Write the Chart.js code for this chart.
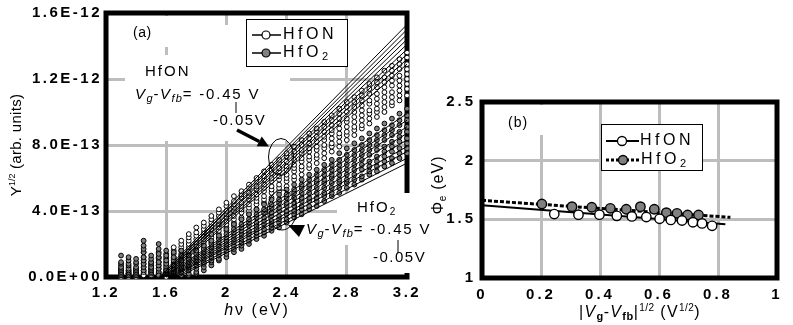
<!DOCTYPE html>
<html><head><meta charset="utf-8">
<script src="https://cdn.jsdelivr.net/npm/chart.js@4.4.1/dist/chart.umd.min.js"></script>
<style>
html,body{margin:0;padding:0;background:#fff;}
#wrap{position:relative;width:793px;height:325px;overflow:hidden;background:#fff;}
canvas{position:absolute;top:0;}
</style></head><body>
<div id="wrap">
<canvas id="ca" width="430" height="325" style="left:0;width:430px;height:325px"></canvas>
<canvas id="cb" width="363" height="325" style="left:430px;width:363px;height:325px"></canvas>
</div>
<script>
// ---------- Panel (a) data: Y^1/2 in units of 1E-13 ----------
const hv = [1.30,1.35,1.40,1.45,1.50,1.55,1.60,1.65,1.70,1.75,1.80,1.85,1.90,1.95,2.00,2.05,2.10,2.15,2.20,2.25,2.30,2.35,2.40,2.45,2.50,2.55,2.60,2.65,2.70,2.75,2.80,2.85,2.90,2.95,3.00,3.05,3.10,3.15,3.20];

const hfonY1 = [0.7,0.6,0.5,0.3,0.7,1.1,1.4,1.8,2.2,2.6,3.0,3.3,3.7,4.1,4.5,4.9,5.2,5.6,6.0,6.4,6.8,7.1,7.5,7.9,8.3,8.7,9.0,9.4,9.8,10.2,10.6,10.9,11.3,11.7,12.1,12.5,12.8,13.2,13.6];
const hfonY2 = [0.5,0.4,0.4,0.1,0.5,0.9,1.2,1.6,2.0,2.4,2.7,3.1,3.5,3.9,4.3,4.6,5.0,5.4,5.8,6.1,6.5,6.9,7.3,7.6,8.0,8.4,8.8,9.1,9.5,9.9,10.3,10.6,11.0,11.4,11.8,12.1,12.5,12.9,13.3];
const hfonY3 = [0.4,0.3,0.3,1.5,0.3,0.7,1.1,1.4,1.8,2.2,2.5,2.9,3.3,3.7,4.0,4.4,4.8,5.1,5.5,5.9,6.3,6.6,7.0,7.4,7.7,8.1,8.5,8.8,9.2,9.6,10.0,10.3,10.7,11.1,11.5,11.8,12.2,12.6,12.9];
const hfonY4 = [0.3,0.2,0.2,1.2,0.1,0.5,0.9,1.2,1.6,2.0,2.3,2.7,3.1,3.4,3.8,4.2,4.5,4.9,5.3,5.6,6.0,6.4,6.7,7.1,7.5,7.8,8.2,8.5,8.9,9.3,9.6,10.0,10.4,10.7,11.1,11.5,11.9,12.2,12.6];
const hfonY5 = [0.2,0.2,0.2,1.0,0.9,0.3,0.7,1.1,1.4,1.8,2.1,2.5,2.9,3.2,3.6,4.0,4.3,4.7,5.0,5.4,5.8,6.1,6.5,6.8,7.2,7.6,7.9,8.3,8.7,9.0,9.4,9.7,10.1,10.5,10.8,11.2,11.6,11.9,12.3];
const hfonY6 = [0.1,0.1,0.1,0.8,0.7,0.2,0.5,0.9,1.2,1.6,1.9,2.3,2.6,3.0,3.4,3.7,4.1,4.4,4.8,5.2,5.5,5.9,6.2,6.6,7.0,7.3,7.7,8.0,8.4,8.7,9.1,9.4,9.8,10.1,10.5,10.9,11.2,11.6,12.0];
const hfonY7 = [0.0,0.0,0.0,0.6,0.5,1.5,0.3,0.7,1.0,1.4,1.7,2.1,2.4,2.8,3.2,3.5,3.9,4.2,4.6,4.9,5.3,5.6,6.0,6.4,6.7,7.1,7.4,7.8,8.1,8.5,8.8,9.1,9.5,9.9,10.2,10.6,10.9,11.3,11.7];
const hfonY8 = [0.0,0.0,0.0,0.4,0.3,1.2,0.2,0.5,0.9,1.2,1.6,1.9,2.2,2.6,3.0,3.3,3.6,4.0,4.4,4.7,5.1,5.4,5.8,6.1,6.5,6.8,7.2,7.5,7.9,8.2,8.6,8.9,9.2,9.6,10.0,10.3,10.6,11.0,11.4];
const hfonY9 = [0.0,0.0,0.0,0.2,0.1,0.9,0.0,0.3,0.7,1.0,1.4,1.7,2.1,2.4,2.8,3.1,3.5,3.8,4.1,4.5,4.8,5.2,5.5,5.9,6.2,6.6,6.9,7.2,7.6,7.9,8.3,8.6,9.0,9.3,9.7,10.0,10.4,10.7,11.0];

const hfo2Y1 = [1.3,1.2,1.1,2.2,1.3,0.1,0.4,0.7,1.0,1.3,1.6,1.9,2.2,2.5,2.9,3.2,3.5,3.8,4.1,4.4,4.7,5.0,5.3,5.6,5.9,6.2,6.5,6.8,7.1,7.5,7.8,8.1,8.4,8.7,9.0,9.3,9.6,9.9,10.2];
const hfo2Y2 = [0.9,1.0,0.9,1.9,1.1,2.0,0.2,0.5,0.8,1.1,1.4,1.7,2.0,2.3,2.6,2.9,3.2,3.5,3.8,4.1,4.4,4.7,5.0,5.3,5.6,5.9,6.2,6.5,6.8,7.1,7.4,7.7,8.0,8.3,8.6,8.9,9.2,9.5,9.8];
const hfo2Y3 = [0.8,0.8,0.8,1.7,0.9,1.7,1.6,0.3,0.6,0.9,1.2,1.5,1.8,2.1,2.4,2.7,3.0,3.3,3.6,3.9,4.2,4.5,4.8,5.1,5.4,5.6,5.9,6.2,6.5,6.8,7.1,7.4,7.7,8.0,8.3,8.6,8.9,9.2,9.5];
const hfo2Y4 = [0.6,0.7,0.6,1.5,0.8,1.4,1.3,0.2,0.5,0.7,1.0,1.3,1.6,1.9,2.2,2.5,2.8,3.1,3.3,3.6,3.9,4.2,4.5,4.8,5.1,5.4,5.7,5.9,6.2,6.5,6.8,7.1,7.4,7.7,8.0,8.3,8.6,8.8,9.1];
const hfo2Y5 = [0.5,0.5,0.5,1.2,0.6,1.2,1.0,1.5,0.3,0.6,0.9,1.1,1.4,1.7,2.0,2.3,2.6,2.8,3.1,3.4,3.7,4.0,4.3,4.5,4.8,5.1,5.4,5.7,6.0,6.2,6.5,6.8,7.1,7.4,7.7,7.9,8.2,8.5,8.8];
const hfo2Y6 = [0.4,0.4,0.4,1.0,0.5,0.9,0.8,1.2,0.1,0.4,0.7,0.9,1.2,1.5,1.8,2.1,2.3,2.6,2.9,3.2,3.4,3.7,4.0,4.3,4.6,4.8,5.1,5.4,5.7,5.9,6.2,6.5,6.8,7.0,7.3,7.6,7.9,8.2,8.4];
const hfo2Y7 = [0.3,0.3,0.3,0.8,0.4,0.7,0.6,1.0,1.6,0.2,0.5,0.8,1.0,1.3,1.6,1.9,2.1,2.4,2.7,2.9,3.2,3.5,3.8,4.0,4.3,4.6,4.8,5.1,5.4,5.7,5.9,6.2,6.5,6.7,7.0,7.3,7.6,7.8,8.1];
const hfo2Y8 = [0.2,0.2,0.2,0.6,0.3,0.5,0.4,0.8,1.3,0.1,0.3,0.6,0.9,1.1,1.4,1.7,1.9,2.2,2.5,2.7,3.0,3.3,3.5,3.8,4.1,4.3,4.6,4.9,5.1,5.4,5.7,5.9,6.1,6.4,6.7,7.0,7.2,7.5,7.8];
const hfo2Y9 = [0.1,0.1,0.1,0.4,0.2,0.3,0.2,0.5,1.0,1.1,0.2,0.4,0.7,1.0,1.2,1.5,1.7,2.0,2.3,2.5,2.8,3.0,3.3,3.6,3.8,4.1,4.3,4.6,4.9,5.1,5.4,5.6,5.9,6.2,6.4,6.7,6.9,7.2,7.5];

// fitted lines (x-intercept in eV, value at hv = 3.2 in 1E-13)
const fitHfONStart = [1.55,1.56,1.56,1.57,1.57,1.58,1.58,1.59,1.60];
const fitHfONEnd   = [15.3,15.0,14.7,14.4,14.1,13.8,13.5,13.2,12.9];
const fitHfO2Start = [1.58,1.59,1.60,1.61,1.62,1.63,1.64,1.66,1.68];
const fitHfO2End   = [9.9,9.5,9.1,8.7,8.3,7.9,7.6,7.2,6.9];
const fitEndHv = 3.2;

const xTicksA = [1.2,1.6,2.0,2.4,2.8,3.2];
const xTickLabelsA = ['1.2','1.6','2','2.4','2.8','3.2'];
const yTicksA = [0,4,8,12,16];
const yTickLabelsA = ['0.0E+00','4.0E-13','8.0E-13','1.2E-12','1.6E-12'];

// ---------- Panel (b) data ----------
const phiHfONX = [0.245,0.327,0.398,0.457,0.508,0.557,0.602,0.640,0.678,0.715,0.746,0.780];
const phiHfONY = [1.545,1.540,1.540,1.530,1.525,1.520,1.505,1.495,1.490,1.475,1.465,1.445];
const phiHfO2X = [0.203,0.305,0.372,0.435,0.489,0.537,0.584,0.625,0.661,0.697,0.734];
const phiHfO2Y = [1.631,1.608,1.603,1.594,1.586,1.608,1.586,1.557,1.551,1.537,1.537];
const fitPhiHfONX = [0, 0.825];
const fitPhiHfONY = [1.620, 1.458];
const fitPhiHfO2X = [0, 0.842];
const fitPhiHfO2Y = [1.662, 1.517];
const xTicksB = [0,0.2,0.4,0.6,0.8,1];
const xTickLabelsB = ['0','0.2','0.4','0.6','0.8','1'];
const yTicksB = [1,1.5,2,2.5];
const yTickLabelsB = ['1','1.5','2','2.5'];

// ---------- helpers ----------
const FONT = '"Liberation Sans", Arial, Helvetica, sans-serif';
const GRID = '#bdbdbd';
const GRAY = '#808080';
Chart.defaults.font.family = FONT;

function pts(xs, ys){ return xs.map((x,i)=>({x:x, y:ys[i]})); }

function setFont(ctx, p){
  ctx.font = (p[2]||'') + ' ' + p[1] + 'px ' + FONT;
  ctx.letterSpacing = (p[4]||0) + 'px';
}
function drawRich(ctx, x, y, parts, align){
  ctx.save();
  ctx.textBaseline = 'middle';
  ctx.textAlign = 'left';
  let total = 0;
  const ws = parts.map(p=>{ setFont(ctx,p); const w = ctx.measureText(p[0]).width; total += w; return w; });
  let cx = align==='center' ? x - total/2 : (align==='right' ? x - total : x);
  parts.forEach((p,i)=>{ setFont(ctx,p); ctx.fillText(p[0], cx, y + (p[3]||0)); cx += ws[i]; });
  ctx.restore();
}
function line(ctx,x1,y1,x2,y2,w,dash){
  ctx.save(); ctx.strokeStyle='#000'; ctx.lineWidth=w; if(dash) ctx.setLineDash(dash);
  ctx.beginPath(); ctx.moveTo(x1,y1); ctx.lineTo(x2,y2); ctx.stroke(); ctx.restore();
}
function circle(ctx,x,y,r,fill,bw){
  ctx.save(); ctx.beginPath(); ctx.arc(x,y,r,0,Math.PI*2); ctx.fillStyle=fill; ctx.fill();
  ctx.lineWidth=bw||1; ctx.strokeStyle='#000'; ctx.stroke(); ctx.restore();
}
function vgParts(){
  return [['V',15,'italic',0,1.5],['g',11,'italic',4,1],['-',15,'',0,1.5],['V',15,'italic',0,1.5],['fb',11,'italic',4,1],['= -0.45 V',15,'',0,1.8]];
}

// ---------- chart (a) ----------
const rowsHfON = [hfonY1,hfonY2,hfonY3,hfonY4,hfonY5,hfonY6,hfonY7,hfonY8,hfonY9];
const rowsHfO2 = [hfo2Y1,hfo2Y2,hfo2Y3,hfo2Y4,hfo2Y5,hfo2Y6,hfo2Y7,hfo2Y8,hfo2Y9];
const dsA = [];
fitHfONStart.forEach((x0,i)=>dsA.push({data:[{x:x0,y:0},{x:fitEndHv,y:fitHfONEnd[i]}],showLine:true,borderColor:'#000',borderWidth:1,pointRadius:0,order:0,clip:1}));
fitHfO2Start.forEach((x0,i)=>dsA.push({data:[{x:x0,y:0},{x:fitEndHv,y:fitHfO2End[i]}],showLine:true,borderColor:'#000',borderWidth:1,pointRadius:0,order:0,clip:1}));
rowsHfO2.forEach(r=>dsA.push({data:pts(hv,r),showLine:false,pointRadius:2.4,pointBorderWidth:1,pointBackgroundColor:GRAY,pointBorderColor:'#000',order:1,clip:2}));
rowsHfON.forEach(r=>dsA.push({data:pts(hv,r),showLine:false,pointRadius:2.4,pointBorderWidth:1,pointBackgroundColor:'#fff',pointBorderColor:'#000',order:2,clip:2}));

const tickFont = {family:FONT,size:15,weight:'bold'};

const plugA = {
  id:'plugA',
  beforeDraw(chart){ chart.ctx.letterSpacing='2.5px'; },
  beforeDatasetsDraw(chart){
    const c=chart.ctx, a=chart.chartArea;
    c.save(); c.letterSpacing='0px';
    c.strokeStyle='#000'; c.lineWidth=5;
    c.strokeRect(a.left,a.top,a.right-a.left,a.bottom-a.top);
    c.fillStyle='#fff';
    c.fillRect(125,16,70,31);
    c.fillRect(195,25,95,30);
    c.fillRect(125,55,165,86);
    c.fillRect(337,193,90,25);
    c.fillRect(300,218,127,27);
    c.fillRect(368,245,59,28);
    c.restore();
  },
  afterDatasetsDraw(chart){
    const c=chart.ctx;
    c.save(); c.fillStyle='#000';
    drawRich(c,133,33,[['(a)',14,'',0,0.5]]);
    // legend
    c.fillStyle='#fff'; c.fillRect(246,19,102,47);
    c.strokeStyle='#000'; c.lineWidth=1; c.strokeRect(246.5,19.5,101,47);
    c.fillStyle='#000';
    line(c,252,35,281,35,1.5); circle(c,266,35,4,'#fff',1.2);
    drawRich(c,283,35,[['HfON',16,'',0,3.5]]);
    line(c,252,53,281,53,1.5); circle(c,266,53,4,GRAY,1.2);
    drawRich(c,283,53,[['HfO',16,'',0,3.5],['2',11,'',4,0]]);
    // HfON annotation
    drawRich(c,145,72,[['HfON',15,'',0,2]]);
    drawRich(c,135,95,vgParts());
    line(c,236,102,236,113,1);
    drawRich(c,213,121,[['-0.05V',15,'',0,1.5]]);
    // arrow
    const sx=237, sy=130, tx=269, ty=146.5;
    const L=Math.hypot(tx-sx,ty-sy), dx=(tx-sx)/L, dy=(ty-sy)/L, hl=11, hw=5.5;
    const bx=tx-hl*dx, by=ty-hl*dy;
    line(c,sx,sy,bx,by,3.5);
    c.beginPath(); c.moveTo(tx,ty); c.lineTo(bx-hw*dy,by+hw*dx); c.lineTo(bx+hw*dy,by-hw*dx); c.closePath(); c.fill();
    // ellipses
    c.strokeStyle='#000'; c.lineWidth=1;
    c.beginPath(); c.ellipse(281,157,12.5,18.5,0,0,Math.PI*2); c.stroke();
    c.beginPath(); c.ellipse(282,210,14.5,20,0,0,Math.PI*2); c.stroke();
    // HfO2 annotation
    drawRich(c,357,208,[['HfO',15,'',0,2],['2',10,'',4,0]]);
    c.beginPath(); c.moveTo(288,225); c.lineTo(305,225); c.lineTo(299,237); c.closePath(); c.fill();
    drawRich(c,306,230,vgParts());
    line(c,398,240,398,253,1);
    drawRich(c,373,258,[['-0.05V',15,'',0,1.5]]);
    // axis titles
    drawRich(c,257,311,[['h',16,'italic',0,2],['ν (eV)',16,'',0,2]],'center');
    c.save(); c.translate(17,145); c.rotate(-Math.PI/2);
    drawRich(c,0,0,[['Y',15,'',0,0.3],['1/2',9,'',-4,0],[' (arb. units)',15,'',0,0.3]],'center');
    c.restore();
    c.restore();
  }
};

new Chart(document.getElementById('ca'),{
  type:'scatter',
  data:{datasets:dsA},
  options:{
    responsive:false, animation:false, devicePixelRatio:1, events:[],
    layout:{padding:{left:0,right:23,top:13,bottom:0}},
    plugins:{legend:{display:false},tooltip:{enabled:false}},
    scales:{
      x:{type:'linear',min:1.2,max:3.2,
        afterBuildTicks:s=>{s.ticks=xTicksA.map(v=>({value:v}));},
        ticks:{callback:(v,i)=>xTickLabelsA[i],font:tickFont,color:'#000',padding:7,maxRotation:0,autoSkip:false},
        grid:{color:GRID,lineWidth:3,drawTicks:false},border:{display:false},
        afterFit:s=>{s.height=48;}},
      y:{type:'linear',min:0,max:16,
        afterBuildTicks:s=>{s.ticks=yTicksA.map(v=>({value:v}));},
        ticks:{callback:(v,i)=>yTickLabelsA[i],font:tickFont,color:'#000',padding:4,autoSkip:false},
        grid:{color:GRID,lineWidth:3,drawTicks:false},border:{display:false},
        afterFit:s=>{s.width=106;}}
    }
  },
  plugins:[plugA]
});

// ---------- chart (b) ----------
const dsB = [
  {data:pts(phiHfONX,phiHfONY),showLine:false,pointRadius:4.7,pointBorderWidth:1.4,pointBackgroundColor:'#fff',pointBorderColor:'#000',order:0},
  {data:pts(phiHfO2X,phiHfO2Y),showLine:false,pointRadius:4.7,pointBorderWidth:1.4,pointBackgroundColor:GRAY,pointBorderColor:'#000',order:1},
  {data:pts(fitPhiHfONX,fitPhiHfONY),showLine:true,borderColor:'#000',borderWidth:2,pointRadius:0,order:2},
  {data:pts(fitPhiHfO2X,fitPhiHfO2Y),showLine:true,borderColor:'#000',borderWidth:3,borderDash:[4,2],pointRadius:0,order:3}
];

const plugB = {
  id:'plugB',
  beforeDraw(chart){ chart.ctx.letterSpacing='3px'; },
  beforeDatasetsDraw(chart){
    const c=chart.ctx, a=chart.chartArea;
    c.save(); c.letterSpacing='0px';
    c.fillStyle='#fff'; c.fillRect(70,105,60,30);
    c.strokeStyle='#000'; c.lineWidth=5;
    c.strokeRect(a.left,a.top,a.right-a.left,a.bottom-a.top);
    // legend box
    c.fillStyle='#fff'; c.fillRect(171,124,102,47);
    c.strokeStyle='#000'; c.lineWidth=1; c.strokeRect(171.5,124.5,101,46);
    c.restore();
  },
  afterDatasetsDraw(chart){
    const c=chart.ctx;
    c.save(); c.fillStyle='#000';
    drawRich(c,78,123,[['(b)',14,'',0,1]]);
    line(c,176,141,209,141,2); circle(c,192,141,4.5,'#fff',1.3);
    drawRich(c,210,141,[['HfON',16,'',0,3.5]]);
    line(c,176,160,211,160,3,[3,2]); circle(c,193,160,4.5,GRAY,1.3);
    drawRich(c,211,160,[['HfO',16,'',0,3.5],['2',11,'',4,0]]);
    // axis titles
    drawRich(c,210,313,[['|',16,'',0,1.3],['V',16,'italic',0,1.3],['g',11,'bold',4,0.5],['-',16,'',0,1.3],['V',16,'italic',0,1.3],['fb',11,'bold',4,0.5],['|',16,'',0,1.3],['1/2',10,'',-5,0.5],[' (V',16,'',0,1.3],['1/2',10,'',-5,0.5],[')',16,'',0,1.3]],'center');
    c.save(); c.translate(9,185); c.rotate(-Math.PI/2);
    drawRich(c,0,0,[['Φ',16,'',0,0.5],['e',10,'',4,0.5],[' (eV)',16,'',0,1]],'center');
    c.restore();
    c.restore();
  }
};

new Chart(document.getElementById('cb'),{
  type:'scatter',
  data:{datasets:dsB},
  options:{
    responsive:false, animation:false, devicePixelRatio:1, events:[],
    layout:{padding:{left:0,right:16,top:102,bottom:0}},
    plugins:{legend:{display:false},tooltip:{enabled:false}},
    scales:{
      x:{type:'linear',min:0,max:1,
        afterBuildTicks:s=>{s.ticks=xTicksB.map(v=>({value:v}));},
        ticks:{callback:(v,i)=>xTickLabelsB[i],font:tickFont,color:'#000',padding:8,maxRotation:0,autoSkip:false},
        grid:{color:GRID,lineWidth:3,drawTicks:false},border:{display:false},
        afterFit:s=>{s.height=47;}},
      y:{type:'linear',min:1,max:2.5,
        afterBuildTicks:s=>{s.ticks=yTicksB.map(v=>({value:v}));},
        ticks:{callback:(v,i)=>yTickLabelsB[i],font:tickFont,color:'#000',padding:6,autoSkip:false},
        grid:{color:GRID,lineWidth:3,drawTicks:false},border:{display:false},
        afterFit:s=>{s.width=52;}}
    }
  },
  plugins:[plugB]
});
</script>
</body></html>
